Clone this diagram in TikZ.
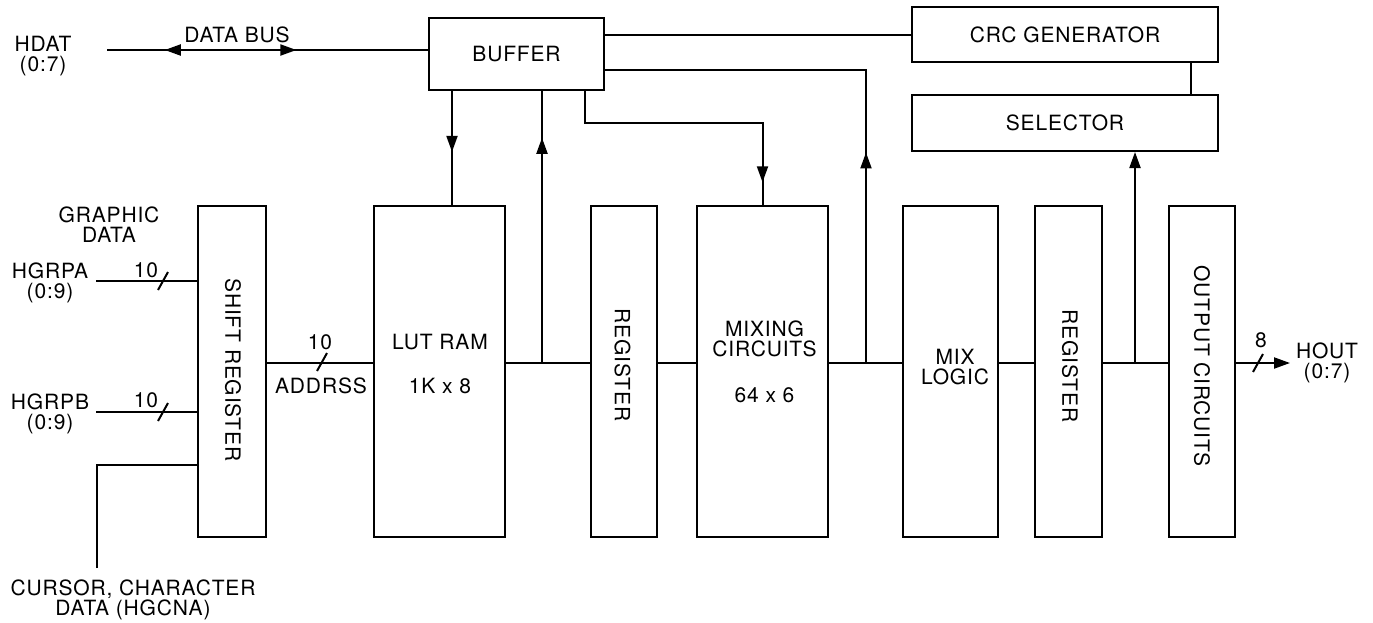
\documentclass[tikz,border=0pt]{standalone}
\usepackage{fontspec}
\setmainfont{TeX Gyre Heros}[LetterSpace=4]
\usetikzlibrary{arrows.meta,decorations.markings}
\begin{document}
\begin{tikzpicture}[x=1pt,y=-1pt,
  box/.style={draw, line width=2pt, inner sep=0pt, font=\fontsize{21}{20}\selectfont},
  tall/.style={box, minimum height=331pt, minimum width=#1},
  lbl/.style={font=\fontsize{21}{20}\selectfont, align=center, inner sep=0pt},
  wire/.style={line width=2pt},
  tip/.style={-{Triangle[length=16pt,width=11pt]}},
  midarrow/.style={postaction={decorate}, decoration={markings,
     mark=at position #1 with {\arrow{Triangle[length=16pt,width=11pt]}}}},
  dbus/.style={postaction={decorate}, decoration={markings,
     mark=at position 0.180 with {\arrowreversed{Triangle[length=16pt,width=11pt]}},
     mark=at position 0.590 with {\arrow{Triangle[length=16pt,width=11pt]}}}},
  slashm/.style={line width=2pt}
]
\useasboundingbox (0,0) rectangle (1373,622);

% boxes
\node[box, minimum width=175pt, minimum height=72pt] (buffer) at (516.5,54) {BUFFER};
\node[box, minimum width=306pt, minimum height=55pt] (crc) at (1065,34.5) {CRC GENERATOR};
\node[box, minimum width=306pt, minimum height=56pt] (selector) at (1065,123) {SELECTOR};
\node[tall=68pt] (shift) at (232,371.5) {};
\node[tall=131pt] (lut) at (439.5,371.5) {};
\node[tall=66pt] (reg1) at (624,371.5) {};
\node[tall=131pt] (mix) at (762.5,371.5) {};
\node[tall=95pt] (mixlogic) at (950.5,371.5) {};
\node[tall=67pt] (reg2) at (1068.5,371.5) {};
\node[tall=66pt] (out) at (1202,371.5) {};

% texts
\node[lbl] (hdat) at (43,56) {HDAT\\(0:7)};
\node[lbl] (databus) at (237,35) {DATA BUS};
\node[lbl] (graphic) at (109,225) {GRAPHIC\\DATA};
\node[lbl] (hgrpa) at (50,283) {HGRPA\\(0:9)};
\node[lbl] (hgrpb) at (50,414) {HGRPB\\(0:9)};
\node[lbl] (cursor) at (133,600) {CURSOR, CHARACTER\\DATA (HGCNA)};
\node[lbl] (na) at (146,270) {10};
\node[lbl] (nb) at (146,400) {10};
\node[lbl] (nc) at (320,342) {10};
\node[lbl] (addrss) at (321,386) {ADDRSS};
\node[lbl] (tlut) at (440,342) {LUT RAM};
\node[lbl] (tlut2) at (440,386) {1K x 8};
\node[lbl] (tmix) at (764.5,339) {MIXING\\CIRCUITS};
\node[lbl] (tmix2) at (764.5,395) {64 x 6};
\node[lbl] (tml) at (955,367) {MIX\\LOGIC};
\node[lbl, rotate=-90] (tshift) at (233,370) {SHIFT REGISTER};
\node[lbl, rotate=-90] (treg1) at (622.5,365) {REGISTER};
\node[lbl, rotate=-90] (treg2) at (1070,366) {REGISTER};
\node[lbl, rotate=-90] (tout) at (1202,366) {OUTPUT CIRCUITS};
\node[lbl] (n8) at (1261,340) {8};
\node[lbl] (hout) at (1327,363) {HOUT\\(0:7)};

% coordinates
\coordinate (hd) at (107,50);
\coordinate (ina) at (96,281);
\coordinate (inb) at (96,412);
\coordinate (inc) at (97,568);
\coordinate (yc) at (0,465);
\coordinate (ym) at (0,363);
\coordinate (xa) at (452,0);
\coordinate (xb) at (542,0);
\coordinate (xc) at (585,0);
\coordinate (yd) at (0,123);
\coordinate (xe) at (866,0);
\coordinate (ye) at (0,70);
\coordinate (xf) at (1135,0);
\coordinate (xg) at (1191,0);
\coordinate (houtend) at (1290,363);

% connectors
\draw[wire, dbus] (hd) -- (hd -| buffer.west);
\draw[wire] (crc.west -| buffer.east) -- (crc.west);
\draw[wire] (crc.south -| xg) -- (selector.north -| xg);
\draw[wire, midarrow=0.534] (buffer.south -| xa) -- (lut.north -| xa);
\draw[wire, midarrow=0.828] (ym -| xb) -- (buffer.south -| xb);
\draw[wire, midarrow=0.922] (buffer.south -| xc) |- (yd -| mix.north) -- (mix.north);
\draw[wire, midarrow=0.380] (ym -| xe) |- (buffer.east |- ye);
\draw[wire, tip] (ym -| xf) -- (selector.south -| xf);

\draw[wire] (shift.east |- ym) -- (lut.west |- ym);
\draw[wire] (lut.east |- ym) -- (reg1.west |- ym);
\draw[wire] (reg1.east |- ym) -- (mix.west |- ym);
\draw[wire] (mix.east |- ym) -- (mixlogic.west |- ym);
\draw[wire] (mixlogic.east |- ym) -- (reg2.west |- ym);
\draw[wire] (reg2.east |- ym) -- (out.west |- ym);
\draw[wire, tip] (out.east |- ym) -- (houtend);

\draw[wire] (ina) -- (shift.west |- ina);
\draw[wire] (inb) -- (shift.west |- inb);
\draw[wire] (inc) |- (shift.west |- yc);

% bus width slashes
\draw[slashm] (163,281) ++(-5,9) -- ++(10,-18);
\draw[slashm] (163,412) ++(-5,9) -- ++(10,-18);
\draw[slashm] (322,362) ++(-5,9) -- ++(10,-18);
\draw[slashm] (1258,363) ++(-5,9) -- ++(10,-18);
\end{tikzpicture}
\end{document}
